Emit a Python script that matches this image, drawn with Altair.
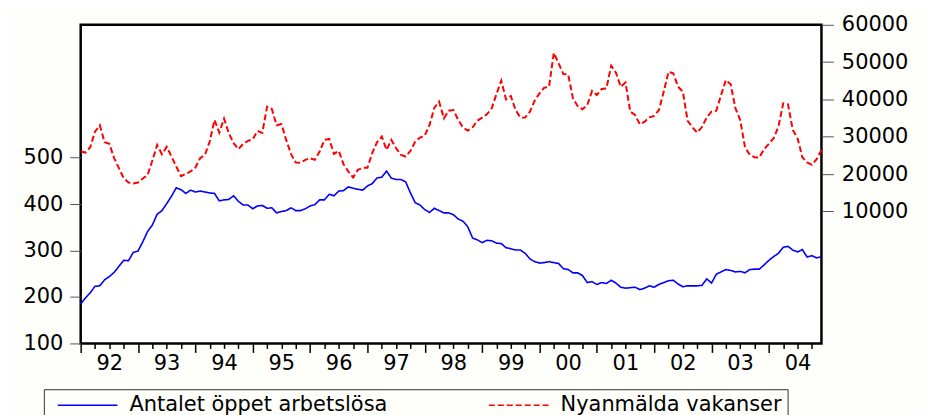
import altair as alt
import pandas as pd

# month index 0 = 1992M01 ... 155 = 2004M12
months = list(range(156))

arbetslosa = [
    185, 198, 209, 223, 224, 237, 244, 253, 266, 279, 278, 296,
    299, 319, 341, 355, 378, 386, 401, 417, 435, 431, 423, 430,
    426, 428, 426, 424, 423, 407, 409, 410, 418, 406, 398, 398,
    390, 396, 397, 391, 392, 381, 384, 386, 392, 386, 386, 390,
    396, 399, 409, 409, 421, 418, 428, 429, 437, 434, 432, 430,
    439, 444, 456, 458, 471, 456, 453, 453, 448, 424, 403, 398,
    388, 382, 391, 386, 381, 381, 377, 368, 363, 351, 327, 323,
    317, 322, 321, 316, 315, 306, 304, 301, 301, 294, 282, 276,
    273, 274, 276, 274, 272, 261, 259, 252, 252, 246, 231, 233,
    227, 231, 229, 236, 230, 221, 219, 220, 221, 216, 219, 224,
    221, 227, 231, 235, 236, 228, 222, 224, 224, 224, 225, 239,
    230, 249, 254, 259, 257, 254, 255, 252, 259, 260, 260, 269,
    279, 287, 294, 307, 309, 301, 297, 302, 286, 289, 284, 287,
]

vakanser = [
    26040, 25770, 27200, 31380, 33080, 28530, 28090, 24260, 21580, 18910, 17750, 17480,
    17750, 18820, 19710, 23630, 27820, 25330, 27290, 24700, 22030, 19440, 20070, 20690,
    21760, 24260, 25150, 28710, 34500, 31120, 34860, 30940, 28270, 26660, 28090, 28890,
    29330, 31560, 31030, 38070, 37440, 33080, 33430, 29160, 25410, 23100, 23010, 23810,
    24260, 23810, 26040, 29160, 29420, 25410, 26220, 22650, 20690, 19090, 21140, 21670,
    21670, 25590, 28530, 30050, 26480, 29160, 26930, 25150, 24700, 26220, 28710, 29780,
    30310, 33170, 37800, 39400, 34950, 37000, 37180, 34500, 32450, 31650, 32540, 34320,
    35130, 36020, 37620, 41450, 45020, 40030, 40920, 37180, 35130, 35130, 36730, 39670,
    41630, 43150, 43410, 52500, 49650, 46800, 46710, 40290, 38200, 37350, 38510, 42250,
    41190, 42790, 42970, 49030, 47150, 43410, 44570, 36730, 35840, 33340, 34060, 35220,
    35570, 37180, 42080, 47420, 46980, 43410, 42080, 34240, 32540, 31120, 32600, 35220,
    36730, 37000, 41190, 45200, 44040, 37620, 34500, 27200, 25150, 24520, 24430, 26660,
    28090, 29600, 32720, 38960, 38690, 31830, 29600, 24520, 23100, 22470, 23990, 26480,
]

series_names = ["Antalet öppet arbetslösa", "Nyanmälda vakanser"]
series_colors = ["#0000FF", "#FF0000"]
left_ticks = [100, 200, 300, 400, 500]
right_ticks = [10000, 20000, 30000, 40000, 50000, 60000]
x_ticks = list(range(0, 156, 3))

df1 = pd.DataFrame({"m": months, "v": arbetslosa, "serie": series_names[0]})
df2 = pd.DataFrame({"m": months, "v": vakanser, "serie": series_names[1]})

FONT = "DejaVu Sans"
FS = 21

x_axis = alt.Axis(
    values=x_ticks,
    title=None,
    grid=False,
    domain=False,
    tickColor="black",
    tickWidth=1.5,
    tickSize={"condition": {"test": "datum.value % 12 === 0", "value": 9}, "value": 5},
    labelExpr="datum.value % 12 === 0 ? slice('0' + ((92 + datum.value / 12) % 100), -2) : ''",
    labelOffset=28.7,
    labelFlush=False,
    labelAlign="center",
    labelOverlap=False,
    labelPadding=0,
    labelFont=FONT,
    labelFontSize=FS,
    labelColor="black",
)
x_enc = alt.X("m:Q", scale=alt.Scale(domain=[0, 155], nice=False, zero=False), axis=x_axis)

legend = alt.Legend(
    title=None,
    orient="none",
    legendX=-37,
    legendY=366,
    direction="horizontal",
    symbolType="M-0.2,0H5.8",
    symbolSize=400,
    symbolStrokeWidth=1.5,
    labelFont=FONT,
    labelFontSize=FS,
    labelColor="black",
    labelLimit=0,
    labelOffset=59,
    columnPadding=92,
    padding=5,
    strokeColor="#333333",
    fillColor="#FEFEFA",
)
color_enc = alt.Color(
    "serie:N",
    scale=alt.Scale(domain=series_names, range=series_colors),
    legend=legend,
)
dash_enc = alt.StrokeDash(
    "serie:N",
    scale=alt.Scale(domain=series_names, range=[[1, 0], [6, 3]]),
    legend=legend,
)

blue = alt.Chart(df1).mark_line(strokeWidth=1.6).encode(
    x=x_enc,
    y=alt.Y(
        "v:Q",
        scale=alt.Scale(domain=[100, 786], nice=False, zero=False),
        axis=alt.Axis(
            orient="left", values=left_ticks, title=None, grid=False, domain=False,
            tickSize=11, tickColor="#555555", tickWidth=1, labelPadding=7,
            labelFont=FONT, labelFontSize=FS, labelColor="black",
        ),
    ),
    color=color_enc,
    strokeDash=dash_enc,
)

red = alt.Chart(df2).mark_line(strokeWidth=2).encode(
    x=x_enc,
    y=alt.Y(
        "v:Q",
        scale=alt.Scale(domain=[-25380, 60000], nice=False, zero=False),
        axis=alt.Axis(
            orient="right", values=right_ticks, title=None, grid=False, domain=False,
            format="d",
            tickSize=12, tickColor="#555555", tickWidth=1, labelPadding=8,
            labelFont=FONT, labelFontSize=FS, labelColor="black",
        ),
    ),
    color=color_enc,
    strokeDash=dash_enc,
)

chart = (
    alt.layer(blue, red)
    .resolve_scale(y="independent")
    .properties(
        width=744,
        height=320,
        autosize=alt.AutoSizeParams(type="none"),
        padding={"left": 73, "top": 16, "right": 105, "bottom": 71},
        background="#FEFEFA",
    )
    .configure_view(stroke="black", strokeWidth=2.5, fill="white")
)

chart.save("out.html", embed_options={"renderer": "svg", "actions": False})
